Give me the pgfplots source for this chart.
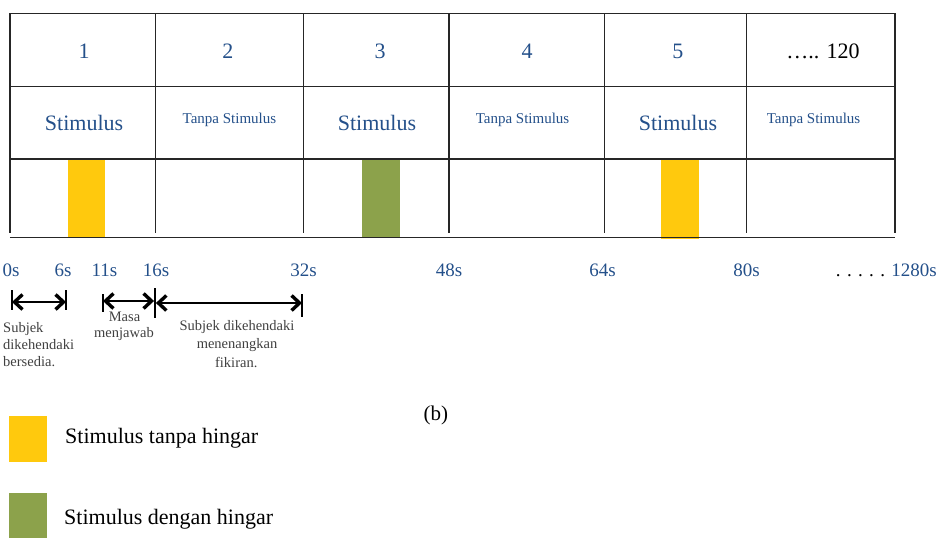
\documentclass[border=0pt]{standalone}
\usepackage{fontspec}
\setmainfont{Liberation Serif}
\usepackage{pgfplots}
\pgfplotsset{compat=1.18}
\usetikzlibrary{arrows.meta}

\definecolor{txtblue}{HTML}{24508A}
\definecolor{stimyel}{HTML}{FFC90D}
\definecolor{stimgrn}{HTML}{8CA24B}
\definecolor{note}{HTML}{404040}

% x: time in seconds, y: vertical position (top = 0)
\newcommand{\fs}[1]{\fontsize{#1}{#1}\selectfont}

\begin{document}
\begin{tikzpicture}
\begin{axis}[
    scale only axis,
    width=938pt, height=538pt,
    xmin=-1.087, xmax=100.89,
    ymin=0, ymax=538,
    y dir=reverse,
    hide axis,
    clip=false,
]
\coordinate (TL) at (rel axis cs:0,0);
\coordinate (BR) at (rel axis cs:1,1);

% stimulus bars (start s, end s)
\addplot[fill=stimyel, draw=none] coordinates {(6.31,157.7) (10.36,157.7) (10.36,236.7) (6.31,236.7)} -- cycle;
\addplot[fill=stimgrn, draw=none] coordinates {(38.27,157.7) (42.40,157.7) (42.40,236.7) (38.27,236.7)} -- cycle;
\addplot[fill=stimyel, draw=none] coordinates {(70.78,159) (74.90,159) (74.90,239) (70.78,239)} -- cycle;

% table grid
\begin{scope}[line width=1.5pt, black!85]
\draw (0,13.3) -- (96.22,13.3);
\draw (0,86.7) -- (96.22,86.7);
\draw (0,159) -- (96.22,159);
\draw (0,237.7) -- (96.22,237.7);
\pgfplotsinvokeforeach{0,15.84,31.89,47.73,64.61,80.09,96.22}{
  \draw (#1,13.3) -- (#1,233);
}
\end{scope}

% row 1: trial numbers
\begin{scope}[every node/.style={anchor=base, inner sep=0pt, font=\fs{22}, text=txtblue}]
\node at (8.05,58) {1};
\node at (23.70,58) {2};
\node at (40.23,58) {3};
\node at (56.21,58) {4};
\node at (72.62,58) {5};
\node[text=black] at (88.39,58) {….. 120};
\node at (8.05,130) {Stimulus};
\node at (39.90,130) {Stimulus};
\node at (72.62,130) {Stimulus};
\end{scope}
\begin{scope}[every node/.style={anchor=base, inner sep=0pt, font=\fs{15}, text=txtblue}]
\node at (23.86,123) {Tanpa Stimulus};
\node at (55.72,123) {Tanpa Stimulus};
\node at (87.36,123) {Tanpa Stimulus};
\end{scope}

% time labels
\begin{scope}[every node/.style={anchor=base, inner sep=0pt, font=\fs{19}, text=txtblue}]
\node at (0.11,276) {0s};
\node at (5.76,276) {6s};
\node at (10.27,276) {11s};
\node at (15.87,276) {16s};
\node at (31.91,276) {32s};
\node at (47.73,276) {48s};
\node at (64.42,276) {64s};
\node at (80.07,276) {80s};
\node[anchor=base east] at (100.78,276) {{\color{black}. . . . .} 1280s};
\end{scope}

% interval arrows
\tikzset{bar/.style={line width=1.2pt, black}}
\begin{scope}[line width=2pt, black,
  {Straight Barb[length=8pt,width=15pt,line width=3.4pt]}-{Straight Barb[length=8pt,width=15pt,line width=3.4pt]}]
\draw (0.22,302) -- (6.09,302);
\draw (10.11,301) -- (15.66,301);
\draw (15.86,303) -- (31.75,303);
\end{scope}
\draw[bar] (0.22,290) -- (0.22,310);
\draw[bar] (6.09,290) -- (6.09,310);
\draw[bar] (10.11,294) -- (10.11,312);
\draw[bar] (15.76,288) -- (15.76,318);
\draw[bar] (31.75,294) -- (31.75,317);

% notes
\begin{scope}[every node/.style={inner sep=0pt, font=\fs{14.5}, text=note}]
\node[anchor=base west] at (-0.761,332) {Subjek};
\node[anchor=base west] at (-0.761,349) {dikehendaki};
\node[anchor=base west] at (-0.761,366) {bersedia.};
\node[anchor=base] at (12.45,321) {Masa};
\node[anchor=base] at (12.39,337) {menjawab};
\node[anchor=base] at (24.68,330) {Subjek dikehendaki};
\node[anchor=base] at (24.68,348.5) {menenangkan};
\node[anchor=base] at (24.60,367) {fikiran.};
\end{scope}

\node[anchor=base, inner sep=0pt, font=\fs{21}] at (46.31,420) {(b)};

% legend
\fill[stimyel] (-0.076,415.7) rectangle (4.056,462.3);
\fill[stimgrn] (-0.076,493.3) rectangle (4.056,538);
\node[anchor=base west, inner sep=0pt, font=\fs{22}] at (5.98,443) {Stimulus tanpa hingar};
\node[anchor=base west, inner sep=0pt, font=\fs{22}] at (5.87,524) {Stimulus dengan hingar};
\end{axis}
\pgfresetboundingbox
\path (TL) rectangle (BR);
\end{tikzpicture}
\end{document}
